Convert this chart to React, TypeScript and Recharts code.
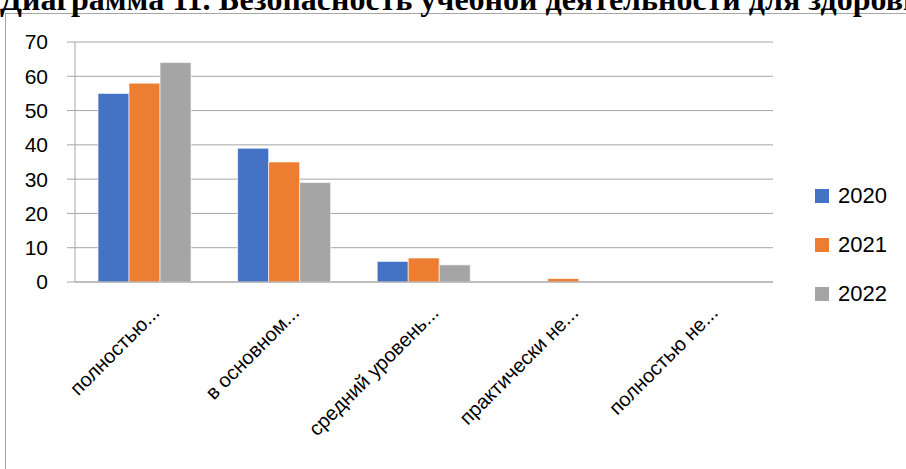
import React from "react";
import { BarChart, Bar, XAxis, YAxis, CartesianGrid, Legend } from "recharts";

const categories = [
  "полностью...",
  "в основном...",
  "средний уровень...",
  "практически не...",
  "полностью не...",
];
const values2020 = [55, 39, 6, 0, 0];
const values2021 = [58, 35, 7, 1, 0];
const values2022 = [64, 29, 5, 0, 0];
const yTicks = [0, 10, 20, 30, 40, 50, 60, 70];

const series = [
  { key: "2020", color: "#4472C4", values: values2020 },
  { key: "2021", color: "#ED7D31", values: values2021 },
  { key: "2022", color: "#A5A5A5", values: values2022 },
];

const data = categories.map((name, i) => {
  const row: Record<string, string | number> = { name };
  series.forEach((s) => {
    row[s.key] = s.values[i];
  });
  return row;
});

const AXIS_COLOR = "#a6a6a6";
const FONT = "'Liberation Sans', Arial, sans-serif";

// rotated category labels, end of text placed just right of the category centre
const CategoryTick = ({ x, y, payload }: any) => (
  <g transform={`translate(${x + 16},${y + 24}) rotate(-45)`}>
    <text textAnchor="end" fill="#000" fontSize={20} fontFamily={FONT}>
      {payload.value}
    </text>
  </g>
);

const LegendBox = () => (
  <div style={{ fontFamily: FONT, fontSize: 22, color: "#000" }}>
    {series.map((s) => (
      <div
        key={s.key}
        style={{ display: "flex", alignItems: "center", height: 49 }}
      >
        <span
          style={{
            display: "inline-block",
            width: 14,
            height: 14,
            background: s.color,
            marginRight: 9,
          }}
        />
        <span>{s.key}</span>
      </div>
    ))}
  </div>
);

export default function App() {
  return (
    <div
      style={{
        position: "absolute",
        left: 0,
        top: 0,
        width: 906,
        height: 469,
        overflow: "hidden",
        background: "#fff",
      }}
    >
      <div
        style={{
          position: "absolute",
          left: 5,
          top: 13,
          width: 940,
          height: 480,
          border: `1px solid ${AXIS_COLOR}`,
        }}
      />
      <div
        style={{
          position: "absolute",
          left: 0,
          top: -17,
          whiteSpace: "nowrap",
          fontFamily: "'Liberation Serif', serif",
          fontWeight: "bold",
          fontSize: 32,
          lineHeight: "32px",
          color: "#000",
        }}
      >
        Диаграмма 11. Безопасность учебной деятельности для здоровья
      </div>
      <div style={{ position: "absolute", left: 0, top: 0 }}>
        <BarChart
          width={906}
          height={469}
          data={data}
          margin={{ top: 42, right: 43, bottom: 0, left: 0 }}
          barCategoryGap="16.5%"
          barGap={0}
        >
          <CartesianGrid vertical={false} stroke={AXIS_COLOR} strokeWidth={1} />
          <XAxis
            dataKey="name"
            height={187}
            interval={0}
            axisLine={{ stroke: AXIS_COLOR }}
            tickLine={false}
            tick={<CategoryTick />}
          />
          <YAxis
            width={75}
            domain={[0, 70]}
            ticks={yTicks}
            axisLine={{ stroke: AXIS_COLOR }}
            tickLine={{ stroke: AXIS_COLOR }}
            tickSize={8}
            tickMargin={19}
            tick={{ fill: "#000", fontSize: 21, fontFamily: FONT }}
          />
          <Legend
            layout="vertical"
            align="right"
            verticalAlign="top"
            content={<LegendBox />}
            wrapperStyle={{ left: 815, top: 171, width: 90 }}
          />
          {series.map((s) => (
            <Bar
              key={s.key}
              dataKey={s.key}
              fill={s.color}
              stroke="#ffffff"
              strokeWidth={0.6}
              isAnimationActive={false}
            />
          ))}
        </BarChart>
      </div>
    </div>
  );
}
